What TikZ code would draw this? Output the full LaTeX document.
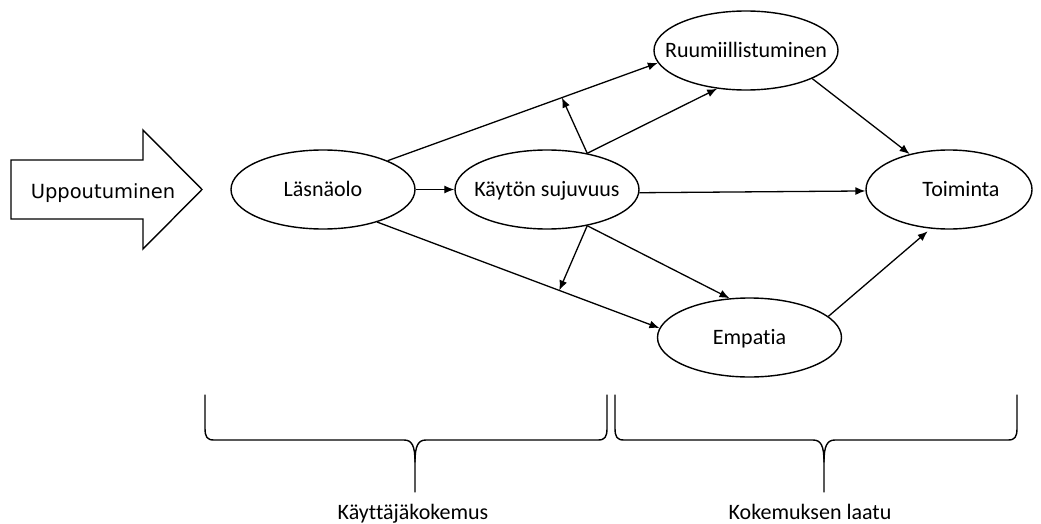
\documentclass[tikz,border=0pt]{standalone}
\usepackage{fontspec}
\setmainfont{Carlito}[Ligatures=NoCommon]
\newfontfamily\dejavu{DejaVu Sans}
\usetikzlibrary{shapes.geometric,arrows.meta,calc}
\begin{document}
\begin{tikzpicture}[x=1pt,y=-1pt,
  every node/.style={font=\fontsize{22}{26}\selectfont},
  oval/.style={ellipse, draw, line width=1.4pt, minimum width=184pt, minimum height=79pt, inner xsep=-40pt, inner ysep=0pt, text height=14pt, text depth=0pt},
  conn/.style={line width=1.3pt, -{Latex[length=10pt,width=8pt]}},
  brace/.style={line width=1.4pt, line join=round, line cap=round}]
\useasboundingbox (0,0) rectangle (1041,524);

% big arrow
\draw[line width=1.4pt, line join=miter] (11,160) -- (143,160) -- (143,130) -- (202,189.5) -- (143,249) -- (143,219) -- (11,219) -- cycle;
\node[font=\dejavu\fontsize{19.5}{23}\selectfont, anchor=base] (upp) at (103,198) {Uppoutuminen};

% ellipses
\node[oval] (las) at (323,189.5) {Läsnäolo};
\node[oval] (kay) at (547,189.5) {Käytön sujuvuus};
\node[oval] (ruu) at (746,50.5) {Ruumiillistuminen};
\node[oval, minimum width=166pt] (toi) at (949,189.5) {\hspace*{24pt}Toiminta};
\node[oval] (emp) at (749.5,337.5) {Empatia};

% connectors
\draw[conn] (las.0) -- (kay.180);
\draw[conn] (las.24) -- (ruu.188);
\draw[conn] (las.-31) -- (emp.174);
\coordinate (j1) at ($(las.24)!0.645!(ruu.188)$);
\coordinate (j2) at ($(las.-31)!0.645!(emp.174)$);
\draw[conn] (kay.42) -- (j1);
\draw[conn] (kay.42) -- (ruu.233);
\draw[conn] (kay.-42) -- (j2);
\draw[conn] (kay.-42) -- (emp.117);
\draw[conn] (kay.-2) -- (toi.181);
\draw[conn] (ruu.-23) -- (toi.138);
\draw[conn, shorten >=4pt] (emp.15) -- (toi.245);

% braces
\draw[brace] (205,395) -- (205,428) .. controls (205,437) and (207,440) .. (214,440) -- (404,440) .. controls (412,440) and (415,446) .. (415,462) -- (415,492);
\draw[brace] (415,462) .. controls (415,446) and (418,440) .. (426,440) -- (598,440) .. controls (605,440) and (607,437) .. (607,428) -- (607,395);
\draw[brace] (615,395) -- (615,428) .. controls (615,437) and (617,440) .. (624,440) -- (813,440) .. controls (821,440) and (824,446) .. (824,462) -- (824,492);
\draw[brace] (824,462) .. controls (824,446) and (827,440) .. (835,440) -- (1008,440) .. controls (1015,440) and (1017,437) .. (1017,428) -- (1017,395);

% labels
\node[anchor=base] (ux) at (413,519) {Käyttäjäkokemus};
\node[anchor=base] (kl) at (810,519) {Kokemuksen laatu};
\end{tikzpicture}
\end{document}
